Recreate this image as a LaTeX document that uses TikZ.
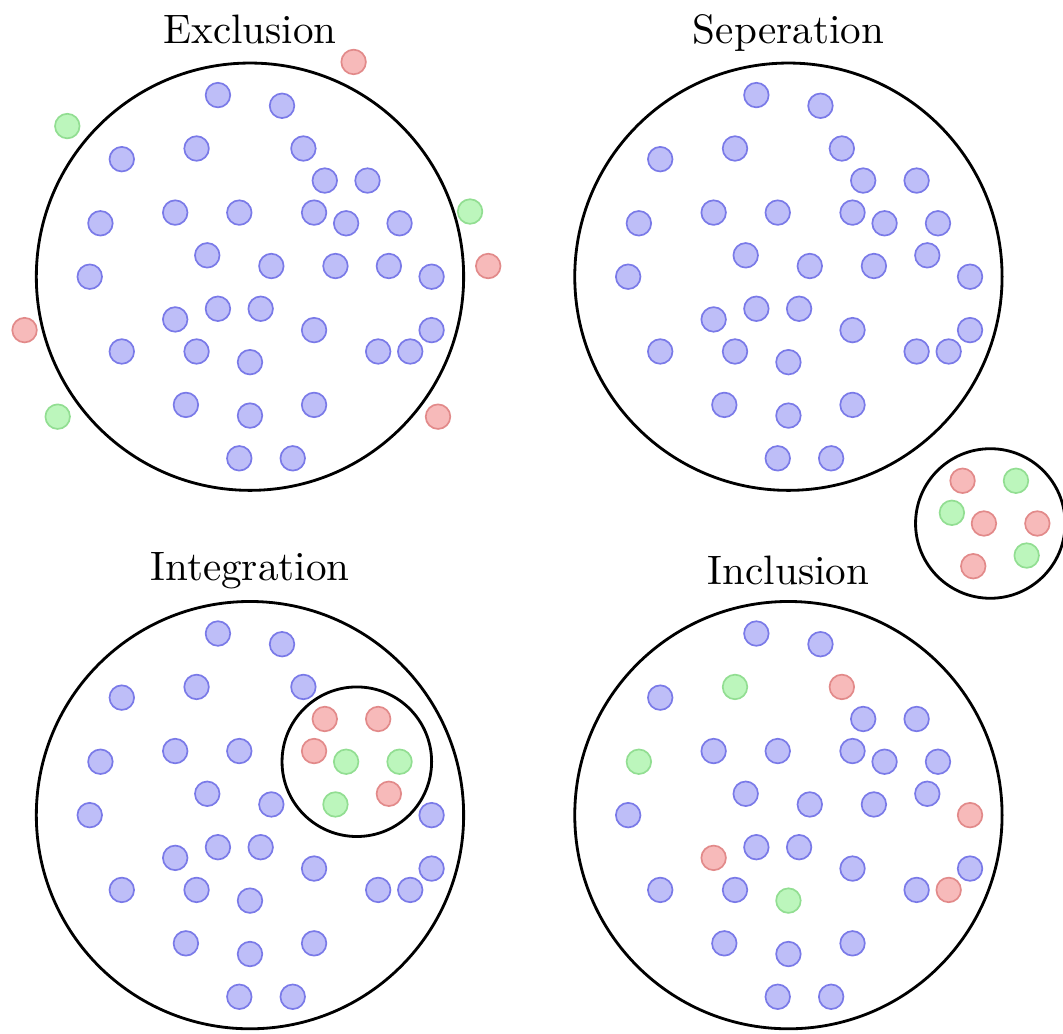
\documentclass[tikz,border=0pt]{standalone}

\definecolor{bfill}{RGB}{190,190,248}
\definecolor{bline}{RGB}{122,122,232}
\definecolor{rfill}{RGB}{247,186,186}
\definecolor{rline}{RGB}{226,138,138}
\definecolor{gfill}{RGB}{188,246,188}
\definecolor{gline}{RGB}{146,222,146}

\begin{document}
\begin{tikzpicture}[x=1mm, y=1mm, ring/.style={draw=black, line width=0.75pt}, member/.style={fill=#1fill, draw=#1line, line width=0.45pt}, title/.style={anchor=base, font=\fontsize{10.95}{13}\selectfont}]
\useasboundingbox (-23.4,-70.8) rectangle (76.1,25.9);

% Exclusion
\foreach \x/\y/\c in {-3/17/b, 3/16/b, -5/12/b, 5/12/b, -12/11/b, 7/9/b, 11/9/b, -7/6/b, -1/6/b, 6/6/b, 9/5/b, 14/5/b, -14/5/b, -4/2/b, 2/1/b, 8/1/b, 13/1/b, 17/0/b, -15/0/b, -3/-3/b, 1/-3/b, -7/-4/b, 6/-5/b, 17/-5/b, -12/-7/b, -5/-7/b, 0/-8/b, 12/-7/b, 15/-7/b, -6/-12/b, 0/-13/b, 6/-12/b, -1/-17/b, 4/-17/b,
  9.7/20.1/r, -17.1/14.1/g, 20.6/6.1/g, 22.3/1/r, -21.1/-5/r, -18/-13.1/g, 17.6/-13.1/r}
  \filldraw[member=\c] (\x,\y) circle (1.15);
\draw[ring] (0,0) circle (20);
\node[title] (excl) at (0,21.8) {Exclusion};

% Seperation
\begin{scope}[shift={(50.4,0)}]
\foreach \x/\y/\c in {-3/17/b, 3/16/b, -5/12/b, 5/12/b, -12/11/b, 7/9/b, 12/9/b, -7/6/b, -1/6/b, 6/6/b, 9/5/b, 14/5/b, -14/5/b, -4/2/b, 2/1/b, 8/1/b, 13/2/b, 17/0/b, -15/0/b, -3/-3/b, 1/-3/b, -7/-4/b, 6/-5/b, 17/-5/b, -12/-7/b, -5/-7/b, 0/-8/b, 12/-7/b, 15/-7/b, -6/-12/b, 0/-13/b, 6/-12/b, -1/-17/b, 4/-17/b,
  16.3/-19.1/r, 21.3/-19.1/g, 15.3/-22.1/g, 18.3/-23.1/r, 23.3/-23.1/r, 22.3/-26.1/g, 17.3/-27.1/r}
  \filldraw[member=\c] (\x,\y) circle (1.15);
\draw[ring] (0,0) circle (20);
\draw[ring] (18.9,-23.1) circle (7);
\node[title] (sep) at (0,21.8) {Seperation};
\end{scope}

% Integration
\begin{scope}[shift={(0,-50.4)}]
\foreach \x/\y/\c in {-3/17/b, 3/16/b, -5/12/b, 5/12/b, -12/11/b, -7/6/b, -1/6/b, -14/5/b, -4/2/b, 2/1/b, 17/0/b, -15/0/b, -3/-3/b, 1/-3/b, -7/-4/b, 6/-5/b, 17/-5/b, -12/-7/b, -5/-7/b, 0/-8/b, 12/-7/b, 15/-7/b, -6/-12/b, 0/-13/b, 6/-12/b, -1/-17/b, 4/-17/b,
  7/9/r, 12/9/r, 6/6/r, 13/2/r, 9/5/g, 14/5/g, 8/1/g}
  \filldraw[member=\c] (\x,\y) circle (1.15);
\draw[ring] (0,0) circle (20);
\draw[ring] (10,5) circle (7);
\node[title] (integ) at (0,22) {Integration};
\end{scope}

% Inclusion
\begin{scope}[shift={(50.4,-50.4)}]
\foreach \x/\y/\c in {-3/17/b, 3/16/b, -12/11/b, 7/9/b, 12/9/b, -7/6/b, -1/6/b, 6/6/b, 9/5/b, 14/5/b, -4/2/b, 2/1/b, 8/1/b, 13/2/b, -15/0/b, -3/-3/b, 1/-3/b, 6/-5/b, 17/-5/b, -12/-7/b, -5/-7/b, 12/-7/b, -6/-12/b, 0/-13/b, 6/-12/b, -1/-17/b, 4/-17/b,
  5/12/r, 17/0/r, -7/-4/r, 15/-7/r, -5/12/g, -14/5/g, 0/-8/g}
  \filldraw[member=\c] (\x,\y) circle (1.15);
\draw[ring] (0,0) circle (20);
\node[title] (incl) at (0,21.6) {Inclusion};
\end{scope}

\end{tikzpicture}
\end{document}
